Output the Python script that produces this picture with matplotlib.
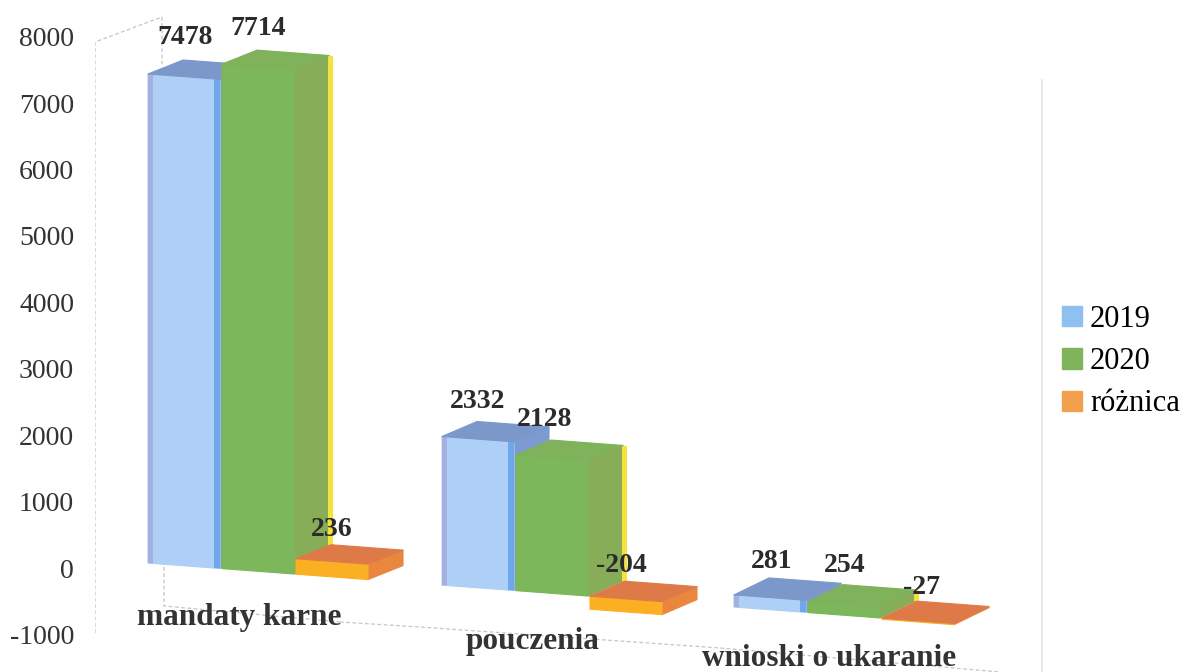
import matplotlib
matplotlib.use('Agg')
from matplotlib import pyplot as plt
from matplotlib.patches import Patch

plt.rcParams['axes.unicode_minus'] = False

categories = ['mandaty karne', 'pouczenia', 'wnioski o ukaranie']
y2019 = [7478, 2332, 281]
y2020 = [7714, 2128, 254]
roznica = [236, -204, -27]
series_names = ['2019', '2020', 'różnica']
ticks = [-1000, 0, 1000, 2000, 3000, 4000, 5000, 6000, 7000, 8000]

W, H = 1185, 672
PX = 0.0664  # pixels per unit on the axis
ZERO = 568   # pixel row of the tick 0
LEFT = 95

# look of the fake 3d
cat_x = [148, 442, 734]
series_step = 74
bar_w = 72
depth_x = 35
depth_y = [14, 15, 17]
shrink = [0.985, 0.96, 0.65]
slope = 0.075
faces = [
    {'front': '#aed0f6', 'side': '#7d9bd0', 'top': '#7c98cb', 'edge': '#7d9bd0', 'left': '#a3b0e0', 'strip': '#6fa8ea', 'edge_w': 0},
    {'front': '#7db75b', 'side': '#88ad58', 'top': '#7fb25a', 'edge': '#f6e23c', 'left': '#7db75b', 'strip': '#7db75b', 'edge_w': 4},
    {'front': '#fbb024', 'side': '#e9873f', 'top': '#de7a48', 'edge': '#e9873f', 'left': '#fbb024', 'strip': '#fbb024', 'edge_w': 0},
]


def val(py):
    return (ZERO - py) / PX


def floor(x):
    # floor runs downhill to the right
    return val(563 + slope * (x - 147))


fig = plt.figure(figsize=(W / 100, H / 100), dpi=100)
ax = fig.add_axes([LEFT / W, 0, 1 - LEFT / W, 1])
ax.set_xlim(LEFT, W)
ax.set_ylim(val(H), val(0))
for s in ax.spines.values():
    s.set_visible(False)
ax.set_xticks([])
ax.set_yticks(ticks)
ax.tick_params(axis='y', length=0, pad=15)
for t in ax.get_yticklabels():
    t.set_family('Liberation Serif')
    t.set_fontsize(20)
    t.set_color('#333333')

# walls
wall = dict(color='#c9c3c6', lw=0.9, ls=(0, (3, 2)), zorder=1)
ax.plot([95, 95, 162, 162], [val(633), val(42), val(17), val(66)], **wall)
ax.plot([164, 164, 340], [val(567), val(606), val(622)], **wall)
ax.plot([340, 420, 720, 1000], [val(622), val(627), val(648), val(672)], **wall)
ax.plot([1042, 1042], [val(80), val(672)], color='#eadfe4', lw=1.2, zorder=1)


def draw_bar(x, v, c, look, z):
    base = floor(x)
    sl = slope / PX
    h = v * shrink[c]
    lo = base + min(h, 0)
    hi = base + max(h, 0)
    dx = depth_x
    dy = depth_y[c] / PX
    dr = sl * bar_w
    soft = dict(lw=0.8, joinstyle='round', zorder=z)
    # side
    ax.fill([x + bar_w, x + bar_w + dx, x + bar_w + dx, x + bar_w],
            [hi - dr, hi - dr + dy, lo - dr + dy, lo - dr], color=look['side'], **soft)
    # back right edge
    if look['edge_w']:
        ax.fill([x + bar_w + dx - 1, x + bar_w + dx + look['edge_w'], x + bar_w + dx + look['edge_w'], x + bar_w + dx - 1],
                [hi - dr + dy, hi - dr + dy - 0.6 / PX, lo - dr + dy, lo - dr + dy], color=look['edge'], lw=0, zorder=z)
    # front
    ax.fill([x, x + bar_w, x + bar_w, x], [lo, lo - dr, hi - dr, hi], color=look['front'], **soft)
    # edges of the front
    ax.fill([x, x + 5, x + 5, x], [lo, lo - sl * 5, hi - sl * 5, hi], color=look['left'], lw=0, zorder=z)
    ax.fill([x + bar_w - 6, x + bar_w, x + bar_w, x + bar_w - 6],
            [lo - sl * (bar_w - 6), lo - dr, hi - dr, hi - sl * (bar_w - 6)], color=look['strip'], lw=0, zorder=z)
    # top
    ax.fill([x, x + dx, x + bar_w + dx, x + bar_w],
            [hi, hi + dy, hi - dr + dy, hi - dr], color=look['top'], **soft)


for c in range(len(categories)):
    for i, data in enumerate([y2019, y2020, roznica]):
        draw_bar(cat_x[c] + i * series_step, data[c], c, faces[i], 3 + i)

# value labels
label_pos = [[(185, 38), (258, 29), (332, 529)],
             [(478, 402), (545, 420), (621, 565)],
             [(772, 561), (845, 566), (921, 587)]]
for c in range(len(categories)):
    for i, data in enumerate([y2019, y2020, roznica]):
        px, py = label_pos[c][i]
        ax.text(px, val(py), str(data[c]), ha='center', va='center', family='Liberation Serif',
                fontweight='bold', fontsize=20, color='#2b2b2b', zorder=8)

cat_pos = [(239, 618), (533, 641), (829, 659)]
for name, (px, py) in zip(categories, cat_pos):
    ax.text(px, val(py), name, ha='center', va='center', family='Liberation Serif',
            fontweight='bold', fontsize=22.5, color='#333333', zorder=8)

handles = [Patch(color='#8fc0f2'), Patch(color='#7fb45a'), Patch(color='#f2a04e')]
ax.legend(handles, series_names, loc='center left', bbox_to_anchor=(0.887, 0.462),
          frameon=False, prop={'family': 'Liberation Serif', 'size': 22},
          handlelength=0.65, handleheight=0.65, handletextpad=0.27, labelspacing=0.44, borderpad=0, borderaxespad=0)

plt.savefig('out.png', dpi=100)
